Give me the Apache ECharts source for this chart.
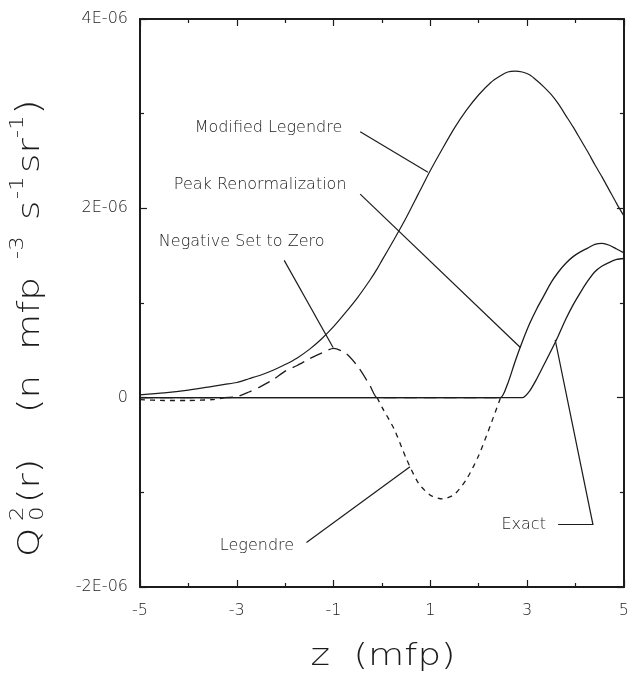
<!DOCTYPE html>
<html>
<head>
<meta charset="utf-8">
<script src="https://cdn.jsdelivr.net/npm/echarts@6/dist/echarts.min.js"></script>
<style>
  html, body { margin: 0; padding: 0; background: #ffffff; }
  #chart { width: 632px; height: 687px; }
</style>
</head>
<body>
<div id="chart"></div>
<script>
// Distance from the source plane, z (mfp), shared by every curve
const zGrid = [-5, -4.5, -4, -3.5, -3.25, -3, -2.75, -2.5, -2.25, -2, -1.75, -1.5, -1.25, -1, -0.75,
  -0.5, -0.25, -0.1, 0, 0.25, 0.5, 0.75, 1, 1.25, 1.5, 1.75, 2, 2.25, 2.45, 2.6,
  2.75, 2.9, 3.05, 3.2, 3.35, 3.5, 3.65, 3.8, 3.95, 4.1, 4.25, 4.4, 4.55, 4.7, 4.85, 5];

// Source moment Q0^2(r), in units of 1E-06 n mfp^-3 s^-1 sr^-1
const exact = [0, 0, 0, 0, 0, 0, 0, 0, 0, 0, 0, 0, 0, 0, 0,
  0, 0, 0, 0, 0, 0, 0, 0, 0, 0, 0, 0, 0, 0, 0,
  0, 0, 0.07, 0.20, 0.35, 0.50, 0.66, 0.83, 0.98, 1.11, 1.23, 1.33, 1.39, 1.43, 1.46, 1.47];

const peakRenormalization = [0, 0, 0, 0, 0, 0, 0, 0, 0, 0, 0, 0, 0, 0, 0,
  0, 0, 0, 0, 0, 0, 0, 0, 0, 0, 0, 0, 0, 0, 0.15,
  0.38, 0.59, 0.78, 0.94, 1.08, 1.22, 1.33, 1.42, 1.49, 1.54, 1.58, 1.62, 1.63, 1.61, 1.57, 1.53];

const modifiedLegendre = [0.03, 0.05, 0.08, 0.12, 0.14, 0.16, 0.20, 0.24, 0.29, 0.35, 0.42, 0.51, 0.62, 0.75, 0.90,
  1.06, 1.24, 1.36, 1.45, 1.67, 1.90, 2.15, 2.40, 2.63, 2.85, 3.04, 3.20, 3.33, 3.40, 3.44,
  3.45, 3.44, 3.41, 3.35, 3.28, 3.20, 3.10, 2.98, 2.86, 2.73, 2.60, 2.46, 2.33, 2.19, 2.05, 1.92];

const negativeSetToZero = [0, 0, 0, 0, 0, 0.01, 0.06, 0.12, 0.19, 0.28, 0.34, 0.41, 0.47, 0.52, 0.47,
  0.33, 0.13, 0, 0, 0, 0, 0, 0, 0, 0, 0, 0, 0, 0, null,
  null, null, null, null, null, null, null, null, null, null, null, null, null, null, null, null];

// Legendre expansion, drawn where it departs from the clipped curve
const legendre = [-0.02, -0.03, -0.03, -0.02, 0, null, null, null, null, null, null, null, null, null, null,
  null, null, 0, -0.10, -0.33, -0.64, -0.90, -1.03, -1.07, -1.02, -0.86, -0.61, -0.28, 0, null,
  null, null, null, null, null, null, null, null, null, null, null, null, null, null, null, null];

// Axis tick labels
const xTickValues = [-5, -3, -1, 1, 3, 5];
const xTickLabels = ['-5', '-3', '-1', '1', '3', '5'];
const yTickValues = [-2, 0, 2, 4];
const yTickLabels = ['-2E-06', '0', '2E-06', '4E-06'];

// Curve captions with their leader lines, in data coordinates (z, Q)
const captions = [
  { text: 'Modified Legendre', at: [-3.87, 2.85], leader: [[-0.45, 2.81], [0.95, 2.38]] },
  { text: 'Peak Renormalization', at: [-4.30, 2.25], leader: [[-0.45, 2.15], [2.86, 0.53]] },
  { text: 'Negative Set to Zero', at: [-4.61, 1.65], leader: [[-2.02, 1.45], [-1.01, 0.53]] },
  { text: 'Legendre', at: [-3.35, -1.56], leader: [[-1.56, -1.53], [0.58, -0.73]] },
  { text: 'Exact', at: [2.47, -1.34], leader: [[3.64, -1.34], [4.36, -1.34], [3.58, 0.61]] }
];

const INK = '#1c1c1c';
const FONT = 'DejaVu Sans';

function pairs(values) {
  return zGrid.map((z, i) => [z, values[i]]);
}

function lineSeries(name, values, dash, width) {
  return {
    name: name,
    type: 'line',
    data: pairs(values),
    symbol: 'none',
    smooth: 0.25,
    connectNulls: false,
    lineStyle: { color: INK, width: width, type: dash },
    emphasis: { disabled: true },
    z: 3
  };
}

const tickStyle = { color: INK, width: 1.2 };

function xAxisDef(position, showLabels) {
  return {
    type: 'value', position: position, min: -5, max: 5, interval: 2,
    axisLine: { show: true, onZero: false, lineStyle: { color: INK, width: 2 } },
    axisTick: { show: true, inside: true, length: 7, lineStyle: tickStyle },
    minorTick: { show: true, splitNumber: 2, length: 4, lineStyle: tickStyle },
    splitLine: { show: false },
    axisLabel: {
      show: showLabels, margin: 16, color: INK, fontFamily: FONT, fontSize: 16, fontWeight: 200,
      formatter: v => xTickLabels[xTickValues.indexOf(Math.round(v))] || ''
    }
  };
}

function yAxisDef(position, showLabels) {
  return {
    type: 'value', position: position, min: -2, max: 4, interval: 2,
    axisLine: { show: true, onZero: false, lineStyle: { color: INK, width: 2 } },
    axisTick: { show: true, inside: true, length: 7, lineStyle: tickStyle },
    minorTick: { show: true, splitNumber: 2, length: 4, lineStyle: tickStyle },
    splitLine: { show: false },
    axisLabel: {
      show: showLabels, margin: 12, color: INK, fontFamily: FONT, fontSize: 16, fontWeight: 200,
      formatter: v => yTickLabels[yTickValues.indexOf(Math.round(v))] || ''
    }
  };
}

const chart = echarts.init(document.getElementById('chart'), null, { renderer: 'canvas' });

chart.setOption({
  animation: false,
  backgroundColor: '#ffffff',
  grid: { left: 140, right: 6, top: 19, bottom: 100, containLabel: false },
  xAxis: [xAxisDef('bottom', true), xAxisDef('top', false)],
  yAxis: [yAxisDef('left', true), yAxisDef('right', false)],
  series: [
    lineSeries('Legendre', legendre, [5, 5], 1.3),
    lineSeries('Negative Set to Zero', negativeSetToZero, [13, 7], 1.3),
    lineSeries('Modified Legendre', modifiedLegendre, 'solid', 1.2),
    lineSeries('Peak Renormalization', peakRenormalization, 'solid', 1.3),
    lineSeries('Exact', exact, 'solid', 1.3)
  ]
});

// Caption texts and leader lines, placed through the grid's coordinate system
const toPx = p => chart.convertToPixel({ gridIndex: 0 }, p);
const graphics = [];
captions.forEach(c => {
  const p = toPx(c.at);
  graphics.push({
    type: 'text', x: p[0], y: p[1], silent: true,
    style: { text: c.text, fill: INK, font: '200 16px "' + FONT + '"', align: 'left', verticalAlign: 'middle' }
  });
  graphics.push({
    type: 'polyline', silent: true,
    shape: { points: c.leader.map(toPx) },
    style: { stroke: INK, lineWidth: 1.2, fill: null }
  });
});

// Axis titles
const TITLE = 31, SCRIPT = 19, STRETCH = 1.2;
const yTitlePieces = [
  { t: 'Q', at: 0, size: TITLE, shift: 0 },
  { t: '2', at: 36, size: SCRIPT, shift: -0.42 },
  { t: '0', at: 36, size: SCRIPT, shift: 0.24 },
  { t: '(r)', at: 54, size: TITLE, shift: 0 },
  { t: '(n', at: 144, size: TITLE, shift: 0 },
  { t: 'mfp', at: 207, size: TITLE, shift: 0 },
  { t: '-3', at: 298, size: SCRIPT, shift: -0.42 },
  { t: 's', at: 337, size: TITLE, shift: 0 },
  { t: '-1', at: 358, size: SCRIPT, shift: -0.42 },
  { t: 'sr', at: 384, size: TITLE, shift: 0 },
  { t: '-1', at: 419, size: SCRIPT, shift: -0.42 },
  { t: ')', at: 442, size: TITLE + 3, shift: 0 }
];
graphics.push({
  type: 'group', x: 31, y: 557, rotation: Math.PI / 2, silent: true,
  children: yTitlePieces.map(p => ({
    type: 'text', x: p.at, y: p.shift * TITLE, scaleX: STRETCH,
    style: { text: p.t, fill: INK, font: '200 ' + p.size + 'px "' + FONT + '"', align: 'left', verticalAlign: 'middle' }
  }))
});
graphics.push({
  type: 'text', x: 383, y: 657, scaleX: STRETCH, silent: true,
  style: { text: 'z  (mfp)', fill: INK, font: '200 ' + TITLE + 'px "' + FONT + '"', align: 'center', verticalAlign: 'middle' }
});

chart.setOption({ graphic: graphics });
</script>
</body>
</html>
